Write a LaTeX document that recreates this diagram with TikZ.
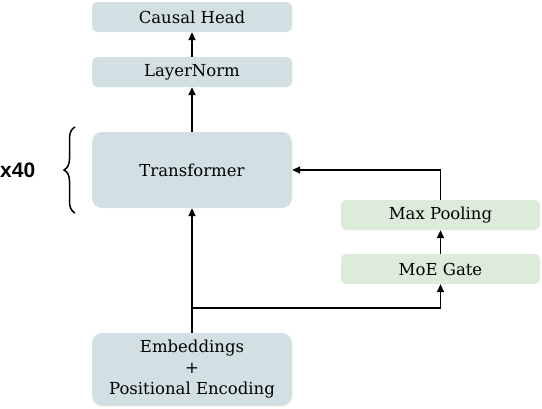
\documentclass[tikz,border=0pt]{standalone}
\usepackage{fontspec}
\setmainfont{DejaVu Serif}
\newfontfamily\boldsans{Liberation Sans}
\usetikzlibrary{arrows.meta,decorations.pathreplacing,calc}
\definecolor{boxblue}{HTML}{D3E0E3}
\definecolor{boxgreen}{HTML}{DDEBDA}
\tikzset{
  bluebox/.style={fill=boxblue, rounded corners=5pt, minimum width=200pt, minimum height=30pt, inner sep=0pt, font=\fontsize{16.5}{21}\selectfont, align=center},
  bigbox/.style={bluebox, rounded corners=10pt},
  greenbox/.style={bluebox, fill=boxgreen},
  conn/.style={line width=1.7pt, -{Triangle[length=8pt,width=7pt]}},
  plain/.style={line width=1.7pt}
}
\begin{document}
\begin{tikzpicture}[x=1pt,y=1pt]
\useasboundingbox (0,0) rectangle (542,-408);
\node[bluebox] (head) at (192,-17) {Causal Head};
\node[bluebox] (ln) at (192,-72) {LayerNorm};
\node[bigbox, minimum height=76pt] (tr) at (192,-170) {Transformer};
\node[greenbox, minimum width=199pt] (mp) at (440.5,-215) {Max Pooling};
\node[greenbox, minimum width=199pt] (moe) at (440.5,-269) {MoE Gate};
\node[bigbox, minimum height=73pt] (emb) at (192,-369.5) {Embeddings\\+\\Positional Encoding};
\coordinate (split) at (192,-308);
\coordinate (corner) at (440.5,-170);
\draw[conn] (emb.north) -- (tr.south);
\draw[conn] (tr.north) -- (ln.south);
\draw[conn] (ln.north) -- (head.south);
\draw[conn] (split) -| (moe.south);
\draw[conn] (moe.north) -- (mp.south);
\draw[conn] (mp.north) -- (corner) -- (tr.east);
\draw[line width=1.5pt, decorate, decoration={brace, amplitude=11pt}] (75,-213) -- (75,-127);
\node[font=\boldsans\bfseries\fontsize{21}{24}\selectfont, anchor=west, inner sep=0pt] (x40) at (0,-170) {x40};
\end{tikzpicture}
\end{document}
